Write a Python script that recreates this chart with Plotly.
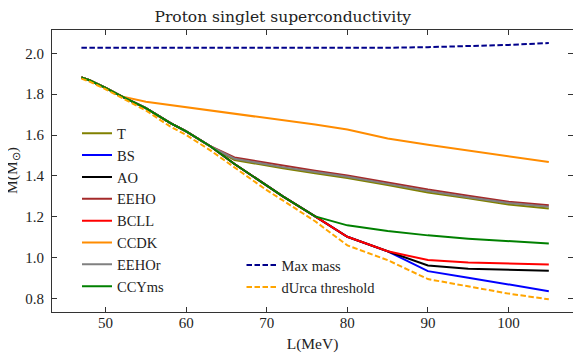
import plotly.graph_objects as go

L = [47, 48, 50, 52, 55, 58, 60, 63, 66, 70, 72, 76, 80, 85, 90, 95, 100, 105]

T_vals     = [1.882, 1.868, 1.831, 1.789, 1.732, 1.660, 1.618, 1.545, 1.478, 1.449, 1.437, 1.413, 1.390, 1.355, 1.319, 1.290, 1.260, 1.241]
BS_vals    = [1.882, 1.868, 1.831, 1.789, 1.732, 1.660, 1.618, 1.545, 1.458, 1.352, 1.300, 1.202, 1.102, 1.031, 0.934, 0.902, 0.870, 0.836]
AO_vals    = [1.882, 1.868, 1.831, 1.789, 1.732, 1.660, 1.618, 1.545, 1.458, 1.352, 1.300, 1.202, 1.102, 1.031, 0.962, 0.946, 0.940, 0.936]
EEHO_vals  = [1.882, 1.868, 1.831, 1.789, 1.732, 1.660, 1.618, 1.545, 1.490, 1.463, 1.450, 1.425, 1.402, 1.368, 1.333, 1.303, 1.274, 1.256]
BCLL_vals  = [1.882, 1.868, 1.831, 1.789, 1.732, 1.660, 1.618, 1.545, 1.458, 1.352, 1.300, 1.202, 1.102, 1.031, 0.988, 0.976, 0.970, 0.966]
CCDK_vals  = [1.882, 1.868, 1.831, 1.789, 1.763, 1.747, 1.738, 1.722, 1.706, 1.684, 1.673, 1.651, 1.627, 1.583, 1.553, 1.525, 1.497, 1.468]
EEHOr_vals = [1.882, 1.868, 1.831, 1.789, 1.732, 1.660, 1.618, 1.545, 1.484, 1.456, 1.443, 1.419, 1.396, 1.361, 1.326, 1.296, 1.267, 1.249]
CCYms_vals = [1.882, 1.868, 1.831, 1.789, 1.732, 1.660, 1.618, 1.545, 1.458, 1.352, 1.300, 1.202, 1.158, 1.130, 1.109, 1.093, 1.080, 1.069]
MaxMass_vals = [2.027, 2.027, 2.026, 2.026, 2.026, 2.025, 2.025, 2.025, 2.024, 2.024, 2.024, 2.024, 2.025, 2.027, 2.030, 2.035, 2.041, 2.050]
dUrca_vals = [1.876, 1.862, 1.824, 1.781, 1.720, 1.642, 1.600, 1.525, 1.440, 1.330, 1.280, 1.178, 1.060, 0.988, 0.895, 0.858, 0.824, 0.796]

x_ticks = [50, 60, 70, 80, 90, 100]
y_ticks = [0.8, 1.0, 1.2, 1.4, 1.6, 1.8, 2.0]

FONT = "Liberation Serif"
TFONT = "DejaVu Serif"

solid = [
    ("T", T_vals, "#808000"),
    ("BS", BS_vals, "#0000ff"),
    ("AO", AO_vals, "#000000"),
    ("EEHO", EEHO_vals, "#a52a2a"),
    ("BCLL", BCLL_vals, "#ff0000"),
    ("CCDK", CCDK_vals, "#ff8c00"),
    ("EEHOr", EEHOr_vals, "#808080"),
    ("CCYms", CCYms_vals, "#008000"),
]

fig = go.Figure()
for name, vals, col in solid:
    fig.add_trace(go.Scatter(x=L, y=vals, mode="lines", name=name,
                             line=dict(color=col, width=2), legend="legend"))

fig.add_trace(go.Scatter(x=L, y=MaxMass_vals, mode="lines", name="Max mass",
                         line=dict(color="#00008b", width=2, dash="5.5px,2.5px"), legend="legend2"))
fig.add_trace(go.Scatter(x=L, y=dUrca_vals, mode="lines", name="dUrca threshold",
                         line=dict(color="#ffa500", width=2, dash="5.5px,2.5px"), legend="legend2"))

axis_common = dict(ticks="inside", ticklen=5, tickwidth=1, tickcolor="#333",
                   showline=True, linecolor="#333", linewidth=1, mirror="ticks",
                   showgrid=False, zeroline=False, automargin=False,
                   tickfont=dict(family=FONT, size=15, color="#222"))

# the page adds an 8px body margin, so the figure is 8px smaller and its
# margins are shifted to keep the plot area at page x 52-573, y 30-312
PW, PH = 521, 282

fig.update_layout(
    width=573, height=355,
    margin=dict(l=44, r=8, t=22, b=51, autoexpand=False),
    plot_bgcolor="white", paper_bgcolor="white",
    font=dict(family=FONT, color="#222"),
    title=dict(text="Proton singlet superconductivity", x=0.443, xref="paper", xanchor="center",
               y=1 - 8.7 / 355, yref="container", yanchor="middle",
               font=dict(family=TFONT, size=15.5, color="#222")),
    xaxis=dict(range=[43.35, 108], tickvals=x_ticks, ticktext=[str(v) for v in x_ticks],
               ticklabelstandoff=-3,
               title=dict(text="L(MeV)", font=dict(family=FONT, size=15.5), standoff=8),
               **axis_common),
    yaxis=dict(range=[0.734, 2.114], tickvals=y_ticks, ticktext=[f"{v:.1f}" for v in y_ticks],
               ticklabelstandoff=4,
               **axis_common),
    annotations=[dict(text="M(M<sub>⊙</sub>)", xref="paper", yref="paper",
                      x=(12 - 52) / PW, y=0.5, xanchor="center", yanchor="middle",
                      textangle=-90, showarrow=False,
                      font=dict(family=FONT, size=15.5, color="#222"))],
    legend=dict(x=(77 - 52) / PW, y=1 - (117.3 - 30) / PH, xanchor="left", yanchor="top",
                bgcolor="rgba(0,0,0,0)", borderwidth=0, font=dict(family=FONT, size=14.5),
                traceorder="normal"),
    legend2=dict(x=(241.5 - 52) / PW, y=1 - (249.2 - 30) / PH, xanchor="left", yanchor="top",
                 bgcolor="rgba(0,0,0,0)", borderwidth=0, font=dict(family=FONT, size=14.5),
                 traceorder="normal"),
)

fig.write_html("out.html")
